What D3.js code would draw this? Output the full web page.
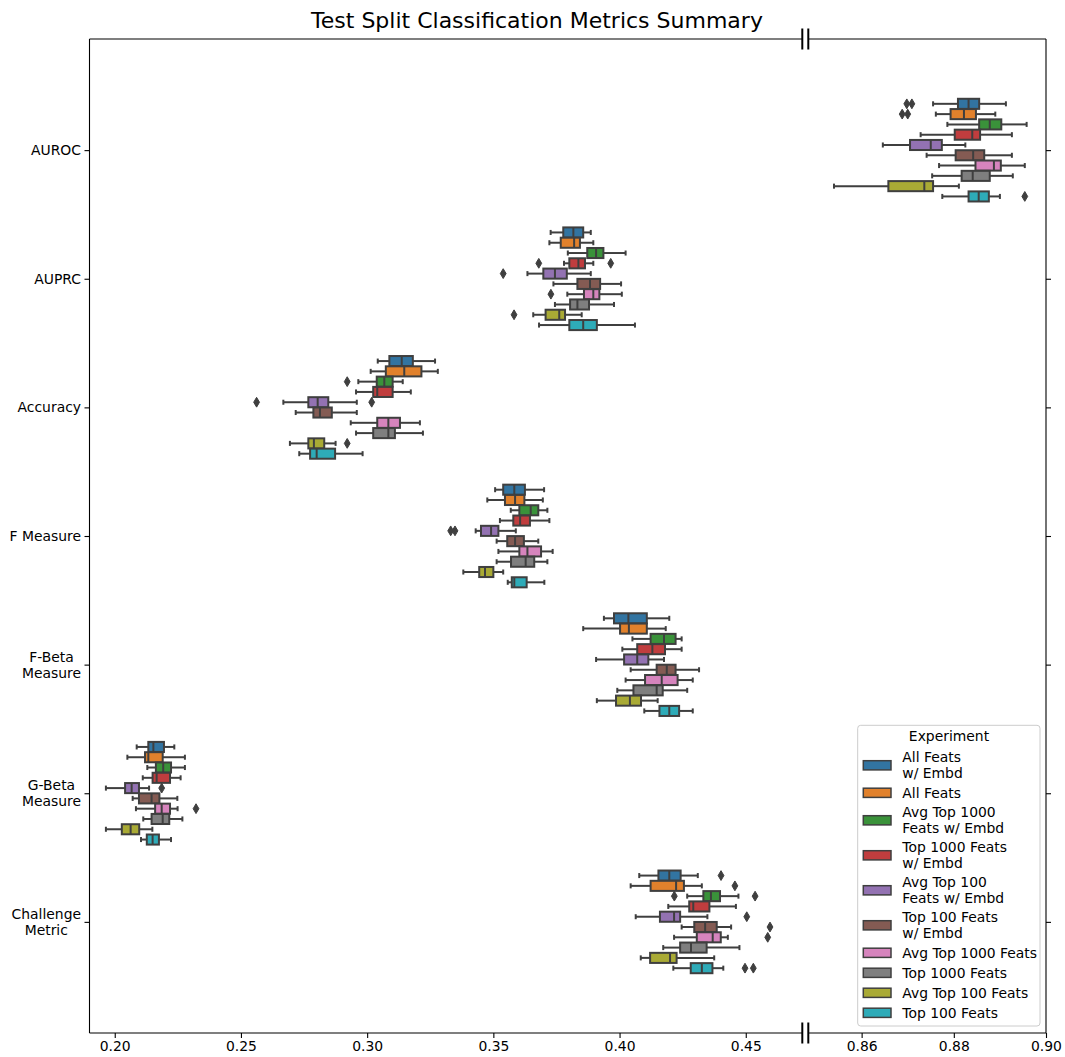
<!DOCTYPE html>
<html>
<head>
<meta charset="utf-8">
<script src="https://cdn.jsdelivr.net/npm/d3@7"></script>
<style>
  body { margin: 0; background: #ffffff; }
  svg text { font-family: "DejaVu Sans", "Liberation Sans", sans-serif; }
</style>
</head>
<body>
<svg id="chart" width="1065" height="1057"></svg>
<script>
// ---- data ---------------------------------------------------------------
const metrics = ["AUROC", "AUPRC", "Accuracy", "F Measure", "F-Beta\nMeasure", "G-Beta\nMeasure", "Challenge\nMetric"];
const experiments = [
  "All Feats\nw/ Embd", "All Feats", "Avg Top 1000\nFeats w/ Embd", "Top 1000 Feats\nw/ Embd",
  "Avg Top 100\nFeats w/ Embd", "Top 100 Feats\nw/ Embd", "Avg Top 1000 Feats", "Top 1000 Feats",
  "Avg Top 100 Feats", "Top 100 Feats"
];
const palette = ["#3274a1", "#e1812c", "#3a923a", "#c03d3e", "#9372b2", "#845b53", "#d684bd", "#7f7f7f", "#a9aa35", "#2eabb8"];
const leftTicks = [0.20, 0.25, 0.30, 0.35, 0.40, 0.45];
const rightTicks = [0.86, 0.88, 0.90];

// five-number summaries per experiment: [lower whisker, Q1, median, Q3, upper whisker]
const aurocStats = [
  [0.8755, 0.8809, 0.8832, 0.8855, 0.8913], [0.8761, 0.8793, 0.8822, 0.8848, 0.8890],
  [0.8786, 0.8855, 0.8878, 0.8903, 0.8958], [0.8728, 0.8802, 0.8840, 0.8857, 0.8926],
  [0.8646, 0.8705, 0.8750, 0.8774, 0.8825], [0.8741, 0.8804, 0.8842, 0.8866, 0.8926],
  [0.8768, 0.8847, 0.8887, 0.8902, 0.8954], [0.8753, 0.8817, 0.8841, 0.8878, 0.8928],
  [0.8540, 0.8658, 0.8736, 0.8755, 0.8811], [0.8775, 0.8832, 0.8854, 0.8876, 0.8900]
];
const auprcStats = [
  [0.3727, 0.3777, 0.3817, 0.3856, 0.3886], [0.3722, 0.3767, 0.3820, 0.3843, 0.3896],
  [0.3795, 0.3872, 0.3907, 0.3936, 0.4024], [0.3780, 0.3801, 0.3837, 0.3863, 0.3896],
  [0.3635, 0.3698, 0.3744, 0.3791, 0.3886], [0.3738, 0.3833, 0.3883, 0.3923, 0.4006],
  [0.3793, 0.3859, 0.3896, 0.3920, 0.4009], [0.3744, 0.3804, 0.3833, 0.3879, 0.3978],
  [0.3658, 0.3707, 0.3761, 0.3784, 0.3850], [0.3681, 0.3801, 0.3856, 0.3910, 0.4061]
];
const accuracyStats = [
  [0.3042, 0.3088, 0.3137, 0.3181, 0.3269], [0.3014, 0.3074, 0.3147, 0.3215, 0.3280],
  [0.2965, 0.3038, 0.3068, 0.3101, 0.3141], [0.2956, 0.3024, 0.3040, 0.3101, 0.3173],
  [0.2668, 0.2767, 0.2804, 0.2846, 0.2959], [0.2717, 0.2787, 0.2813, 0.2860, 0.2959],
  [0.2935, 0.3040, 0.3084, 0.3130, 0.3209], [0.2956, 0.3024, 0.3084, 0.3110, 0.3221],
  [0.2694, 0.2767, 0.2789, 0.2830, 0.2875], [0.2731, 0.2774, 0.2800, 0.2873, 0.2982]
];
const fMeasureStats = [
  [0.3507, 0.3539, 0.3583, 0.3625, 0.3701], [0.3476, 0.3546, 0.3586, 0.3623, 0.3696],
  [0.3569, 0.3603, 0.3648, 0.3678, 0.3714], [0.3526, 0.3579, 0.3606, 0.3645, 0.3722],
  [0.3430, 0.3451, 0.3491, 0.3520, 0.3589], [0.3513, 0.3555, 0.3586, 0.3621, 0.3678],
  [0.3520, 0.3603, 0.3635, 0.3689, 0.3735], [0.3513, 0.3570, 0.3628, 0.3662, 0.3714],
  [0.3381, 0.3444, 0.3467, 0.3500, 0.3539], [0.3557, 0.3573, 0.3583, 0.3632, 0.3702]
];
const fBetaStats = [
  [0.3938, 0.3978, 0.4035, 0.4108, 0.4197], [0.3856, 0.4002, 0.4037, 0.4108, 0.4183],
  [0.4051, 0.4123, 0.4176, 0.4222, 0.4246], [0.4011, 0.4070, 0.4130, 0.4180, 0.4246],
  [0.3907, 0.4018, 0.4070, 0.4114, 0.4176], [0.4044, 0.4147, 0.4187, 0.4222, 0.4315],
  [0.4024, 0.4101, 0.4167, 0.4230, 0.4290], [0.3991, 0.4055, 0.4147, 0.4171, 0.4268],
  [0.3910, 0.3986, 0.4041, 0.4085, 0.4151], [0.4098, 0.4158, 0.4197, 0.4236, 0.4290]
];
const gBetaStats = [
  [0.2087, 0.2133, 0.2153, 0.2195, 0.2236], [0.2050, 0.2120, 0.2133, 0.2190, 0.2278],
  [0.2129, 0.2163, 0.2192, 0.2223, 0.2278], [0.2111, 0.2150, 0.2166, 0.2219, 0.2261],
  [0.1965, 0.2041, 0.2067, 0.2096, 0.2136], [0.2071, 0.2096, 0.2146, 0.2177, 0.2248],
  [0.2084, 0.2160, 0.2186, 0.2219, 0.2249], [0.2113, 0.2146, 0.2190, 0.2216, 0.2268],
  [0.1965, 0.2028, 0.2063, 0.2097, 0.2149], [0.2104, 0.2127, 0.2150, 0.2175, 0.2223]
];
const challengeStats = [
  [0.4078, 0.4154, 0.4197, 0.4242, 0.4310], [0.4044, 0.4123, 0.4224, 0.4255, 0.4326],
  [0.4268, 0.4332, 0.4362, 0.4398, 0.4471], [0.4193, 0.4276, 0.4292, 0.4356, 0.4461],
  [0.4064, 0.4160, 0.4216, 0.4240, 0.4348], [0.4246, 0.4296, 0.4339, 0.4385, 0.4442],
  [0.4216, 0.4306, 0.4369, 0.4401, 0.4429], [0.4173, 0.4240, 0.4283, 0.4345, 0.4475],
  [0.4084, 0.4121, 0.4200, 0.4226, 0.4375], [0.4213, 0.4282, 0.4326, 0.4368, 0.4411]
];

// outlying points per metric: [experiment index, value]
const aurocOutliers = [[0, 0.8698], [0, 0.8709], [1, 0.8688], [1, 0.8700], [9, 0.8954]];
const auprcOutliers = [[3, 0.3680], [3, 0.3965], [4, 0.3539], [6, 0.3728], [8, 0.3582]];
const accuracyOutliers = [[2, 0.2921], [4, 0.2562], [4, 0.3018], [8, 0.2921]];
const fMeasureOutliers = [[4, 0.3331], [4, 0.3348]];
const fBetaOutliers = [];
const gBetaOutliers = [[4, 0.2186], [6, 0.2322]];
const challengeOutliers = [[0, 0.4402], [1, 0.4457], [2, 0.4217], [2, 0.4537], [4, 0.4504], [5, 0.4596], [6, 0.4587], [9, 0.4497], [9, 0.4530]];

const statsByMetric = [aurocStats, auprcStats, accuracyStats, fMeasureStats, fBetaStats, gBetaStats, challengeStats];
const outliersByMetric = [aurocOutliers, auprcOutliers, accuracyOutliers, fMeasureOutliers, fBetaOutliers, gBetaOutliers, challengeOutliers];

// ---- layout -------------------------------------------------------------
const svg = d3.select("#chart");
const plotTop = 39, plotBottom = 1033;
const leftPanel = { x0: 89.5, x1: 802.3 };
const rightPanel = { x0: 808.3, x1: 1046 };
const lineGray = "#3f3f3f";
const fontSize = 13.9;

const xLeft = d3.scaleLinear().domain([0.19, 0.47240]).range([leftPanel.x0, leftPanel.x1]);
const xRight = d3.scaleLinear().domain([0.84843, 0.90]).range([rightPanel.x0, rightPanel.x1]);
const xFor = v => (v > 0.6 ? xRight : xLeft);

const yCat = d3.scaleLinear().domain([-0.864, 6.864]).range([plotTop, plotBottom]);
const unit = yCat(1) - yCat(0);
const hue = d3.scaleBand().domain(d3.range(experiments.length)).range([-0.4, 0.4]);
const boxHalf = hue.bandwidth() * 0.98 / 2 * unit;
const capHalf = boxHalf / 2;
const yOf = (i, j) => yCat(i + hue(j) + hue.bandwidth() / 2);

// ---- boxes ----------------------------------------------------------------
const marks = svg.append("g");
statsByMetric.forEach((rows, i) => {
  rows.forEach((s, j) => {
    const x = xFor(s[2]);
    const y = yOf(i, j);
    const g = marks.append("g");
    g.append("rect")
      .attr("x", x(s[1])).attr("y", y - boxHalf)
      .attr("width", x(s[3]) - x(s[1])).attr("height", 2 * boxHalf)
      .attr("fill", palette[j]).attr("stroke", lineGray).attr("stroke-width", 2);
    [[s[0], s[1]], [s[3], s[4]]].forEach(([a, b]) => {
      g.append("line").attr("x1", x(a)).attr("x2", x(b)).attr("y1", y).attr("y2", y)
        .attr("stroke", lineGray).attr("stroke-width", 2);
    });
    [s[0], s[4]].forEach(v => {
      g.append("line").attr("x1", x(v)).attr("x2", x(v)).attr("y1", y - capHalf).attr("y2", y + capHalf)
        .attr("stroke", lineGray).attr("stroke-width", 2);
    });
    g.append("line").attr("x1", x(s[2])).attr("x2", x(s[2])).attr("y1", y - boxHalf).attr("y2", y + boxHalf)
      .attr("stroke", lineGray).attr("stroke-width", 2);
  });
});

// outliers drawn as thin diamonds
const dh = 4.9, dw = 2.9;
outliersByMetric.forEach((pts, i) => {
  pts.forEach(([j, v]) => {
    const cx = xFor(v)(v), cy = yOf(i, j);
    marks.append("path")
      .attr("d", `M${cx},${cy - dh}L${cx + dw},${cy}L${cx},${cy + dh}L${cx - dw},${cy}Z`)
      .attr("fill", lineGray).attr("stroke", lineGray).attr("stroke-width", 1);
  });
});

// ---- axes -----------------------------------------------------------------
const axisFont = g => g.selectAll("text").attr("font-size", fontSize).attr("fill", "#000");

const gxl = svg.append("g").attr("transform", `translate(0,${plotBottom})`)
  .call(d3.axisBottom(xLeft).tickValues(leftTicks).tickFormat(d3.format(".2f")).tickSize(5).tickPadding(3.5));
const gxr = svg.append("g").attr("transform", `translate(0,${plotBottom})`)
  .call(d3.axisBottom(xRight).tickValues(rightTicks).tickFormat(d3.format(".2f")).tickSize(5).tickPadding(3.5));
[gxl, gxr].forEach(g => { g.select(".domain").remove(); axisFont(g); g.selectAll("line").attr("stroke", "#000").attr("stroke-width", 1.1); });

// y axis on the left with multi-line category names
const gy = svg.append("g").attr("transform", `translate(${leftPanel.x0},0)`)
  .call(d3.axisLeft(yCat).tickValues(d3.range(metrics.length)).tickFormat("").tickSize(5));
gy.select(".domain").remove();
gy.selectAll("line").attr("stroke", "#000").attr("stroke-width", 1.1);
const lineH = 16;
metrics.forEach((m, i) => {
  const lines = m.split("\n");
  const t = svg.append("text").attr("font-size", fontSize).attr("fill", "#000");
  lines.forEach(ln => t.append("tspan").text(ln));
  const widths = [];
  t.selectAll("tspan").each(function () { widths.push(this.getComputedTextLength()); });
  const maxW = d3.max(widths);
  const cx = leftPanel.x0 - 5 - 3.5 - maxW / 2;
  const y0 = yCat(i) - (lines.length - 1) * lineH / 2;
  t.attr("text-anchor", "middle").attr("dominant-baseline", "central");
  t.selectAll("tspan").attr("x", cx).attr("y", (d, k) => y0 + k * lineH);
});

// y ticks mirrored on the right edge
const gyr = svg.append("g").attr("transform", `translate(${rightPanel.x1},0)`)
  .call(d3.axisRight(yCat).tickValues(d3.range(metrics.length)).tickFormat("").tickSize(5));
gyr.select(".domain").remove();
gyr.selectAll("line").attr("stroke", "#000").attr("stroke-width", 1.1);

// spines
const spine = (x1, y1, x2, y2) => svg.append("line").attr("x1", x1).attr("y1", y1).attr("x2", x2).attr("y2", y2)
  .attr("stroke", "#000").attr("stroke-width", 1.1);
spine(leftPanel.x0, plotTop, leftPanel.x0, plotBottom);
spine(leftPanel.x0, plotTop, leftPanel.x1, plotTop);
spine(leftPanel.x0, plotBottom, leftPanel.x1, plotBottom);
spine(rightPanel.x0, plotTop, rightPanel.x1, plotTop);
spine(rightPanel.x0, plotBottom, rightPanel.x1, plotBottom);
spine(rightPanel.x1, plotTop, rightPanel.x1, plotBottom);

// break marks where the two panels meet
[leftPanel.x1, rightPanel.x0].forEach(x => {
  [plotTop, plotBottom].forEach(y => {
    svg.append("line").attr("x1", x).attr("x2", x).attr("y1", y - 10.5).attr("y2", y + 10.5)
      .attr("stroke", "#000").attr("stroke-width", 2);
  });
});

// title
svg.append("text").attr("x", 537).attr("y", 28).attr("text-anchor", "middle")
  .attr("font-size", 22).attr("fill", "#000").text("Test Split Classification Metrics Summary");

// ---- legend ---------------------------------------------------------------
const leg = svg.append("g");
leg.append("rect").attr("x", 857.7).attr("y", 725.3).attr("width", 182.3).attr("height", 300.7)
  .attr("rx", 3).attr("fill", "#fff").attr("fill-opacity", 0.8).attr("stroke", "#cccccc").attr("stroke-width", 1);
leg.append("text").attr("x", 949).attr("y", 736).attr("text-anchor", "middle").attr("dominant-baseline", "central")
  .attr("font-size", fontSize).attr("fill", "#000").text("Experiment");
let cy = 765.3, prevLines = 0;
const entryH = 15, entryGap = 5, textLineH = 15.7;
experiments.forEach((name, j) => {
  const lines = name.split("\n");
  if (j > 0) cy += prevLines * entryH / 2 + entryGap + lines.length * entryH / 2;
  prevLines = lines.length;
  leg.append("rect").attr("x", 863.3).attr("y", cy - 4.6).attr("width", 27.7).attr("height", 9.2)
    .attr("fill", palette[j]).attr("stroke", lineGray).attr("stroke-width", 1.5);
  const t = leg.append("text").attr("font-size", fontSize).attr("fill", "#000").attr("dominant-baseline", "central");
  lines.forEach((ln, k) => {
    t.append("tspan").attr("x", 902.3).attr("y", cy - (lines.length - 1) * textLineH / 2 + k * textLineH).text(ln);
  });
});
</script>
</body>
</html>
